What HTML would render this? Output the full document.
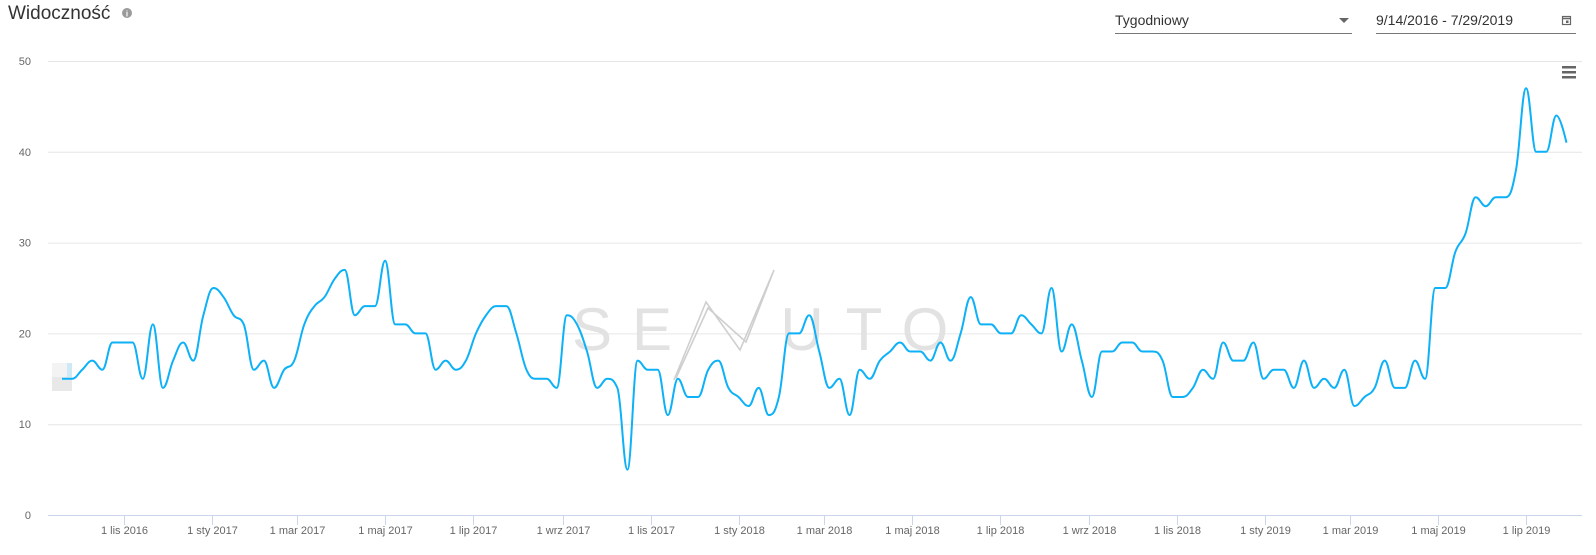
<!DOCTYPE html>
<html><head><meta charset="utf-8"><style>
html,body{margin:0;padding:0;background:#fff;width:1596px;height:555px;overflow:hidden;font-family:"Liberation Sans",sans-serif}
svg{position:absolute;left:0;top:0}
</style></head><body>
<svg width="1596" height="555" viewBox="0 0 1596 555">
  <text x="8" y="19" font-size="19" fill="#333">Widoczność</text>
  <g><circle cx="127" cy="13" r="5" fill="#9a9a9a"/><text x="127" y="16.5" font-size="8" fill="#fff" text-anchor="middle" font-weight="bold">i</text></g>
  <g>
    <text x="1115" y="25" font-size="14" fill="#333">Tygodniowy</text>
    <path d="M1339 18 L1349 18 L1344 23 Z" fill="#666"/>
    <line x1="1115" y1="33.5" x2="1352" y2="33.5" stroke="#777" stroke-width="1"/>
  </g>
  <g>
    <text x="1376" y="25" font-size="14" fill="#333">9/14/2016 - 7/29/2019</text>
    <rect x="1562.5" y="16.5" width="8" height="8" fill="none" stroke="#666" stroke-width="1.2"/>
    <line x1="1562" y1="18.5" x2="1571" y2="18.5" stroke="#666" stroke-width="1.5"/>
    <rect x="1566" y="20.5" width="2.5" height="2.5" fill="#666"/>
    <line x1="1376" y1="33.5" x2="1576" y2="33.5" stroke="#777" stroke-width="1"/>
  </g>
  <g>
    <rect x="1562" y="66" width="14" height="2.5" fill="#666"/><rect x="1562" y="71" width="14" height="2.5" fill="#666"/><rect x="1562" y="76" width="14" height="2.5" fill="#666"/>
  </g>
  <g id="grid"></g>
  <g id="ylabels"></g>
  <g id="xaxis"></g>
  <g fill="none" stroke="#cfcfcf" stroke-width="1.6" font-size="60">
    <text x="592" y="350" text-anchor="middle" fill="#e2e2e2" stroke="none">S</text>
    <text x="652" y="350" text-anchor="middle" fill="#e2e2e2" stroke="none">E</text>
    <text x="802" y="350" text-anchor="middle" fill="#e2e2e2" stroke="none">U</text>
    <text x="864" y="350" text-anchor="middle" fill="#e2e2e2" stroke="none">T</text>
    <text x="925" y="350" text-anchor="middle" fill="#e2e2e2" stroke="none">O</text>
    <polyline points="674,380 706,302 740,350 774,270 746,342 708,308 676,378"/>
  </g>
  <g>
    <rect x="52" y="363" width="20" height="14" fill="#f3f3f3"/>
    <rect x="52" y="377" width="20" height="14" fill="#e8e8e8"/>
    <rect x="67" y="363" width="5" height="14" fill="#cde9f6"/>
  </g>
  <path id="line" fill="none" stroke="#0db1f7" stroke-width="2"/>
</svg>
<script>
const yTicks=[0,10,20,30,40,50];
const xTickDates=["2016-11-01","2017-01-01","2017-03-01","2017-05-01","2017-07-01","2017-09-01","2017-11-01","2018-01-01","2018-03-01","2018-05-01","2018-07-01","2018-09-01","2018-11-01","2019-01-01","2019-03-01","2019-05-01","2019-07-01"];
const xTickLabels=["1 lis 2016","1 sty 2017","1 mar 2017","1 maj 2017","1 lip 2017","1 wrz 2017","1 lis 2017","1 sty 2018","1 mar 2018","1 maj 2018","1 lip 2018","1 wrz 2018","1 lis 2018","1 sty 2019","1 mar 2019","1 maj 2019","1 lip 2019"];
const firstWeek="2016-09-19";
const values=[15,15,16,17,16,19,19,19,15,21,14,17,19,17,22,25,24,22,21,16,17,14,16,17,21,23,24,26,27,22,23,23,28,21,21,20,20,16,17,16,17,20,22,23,23,20,16,15,15,14,22,21,18,14,15,14,5,17,16,16,11,15,13,13,16,17,14,13,12,14,11,13,20,20,22,18,14,15,11,16,15,17,18,19,18,18,17,19,17,20,24,21,21,20,20,22,21,20,25,18,21,17,13,18,18,19,19,18,18,17,13,13,14,16,15,19,17,17,19,15,16,16,14,17,14,15,14,16,12,13,14,17,14,14,17,15,25,25,29,31,35,34,35,35,38,47,40,40,44,41];

const NS="http://www.w3.org/2000/svg";
const DAY=86400000;
const refDate=Date.UTC(2017,0,1), refX=212, pxPerDay=1053/730;
function xDate(s){const p=s.split("-");return refX+(Date.UTC(+p[0],p[1]-1,+p[2])-refDate)/DAY*pxPerDay;}
function xIdx(i){return xDate(firstWeek)+i*7*pxPerDay;}
function y(v){return 515-v*(515-61)/50;}
const L=48,R=1582;
const grid=document.getElementById('grid'),yl=document.getElementById('ylabels'),xa=document.getElementById('xaxis');
yTicks.forEach(t=>{
  if(t>0){const g=document.createElementNS(NS,'line');
  g.setAttribute('x1',L);g.setAttribute('x2',R);g.setAttribute('y1',y(t)+0.5);g.setAttribute('y2',y(t)+0.5);
  g.setAttribute('stroke','#e6e6e6');g.setAttribute('stroke-width','1');
  
  
  grid.appendChild(g);}
  const tx=document.createElementNS(NS,'text');
  tx.setAttribute('x',31);tx.setAttribute('y',y(t)+4);tx.setAttribute('text-anchor','end');
  tx.setAttribute('font-size','11');tx.setAttribute('fill','#666');tx.textContent=t;
  
  
  yl.appendChild(tx);
});
const ax=document.createElementNS(NS,'line');
ax.setAttribute('x1',L);ax.setAttribute('x2',R);ax.setAttribute('y1',515.5);ax.setAttribute('y2',515.5);ax.setAttribute('stroke','#ccd6eb');


xa.appendChild(ax);
xTickDates.forEach((d,k)=>{
  const xx=Math.round(xDate(d))+0.5;
  const tk=document.createElementNS(NS,'line');
  tk.setAttribute('x1',xx);tk.setAttribute('x2',xx);tk.setAttribute('y1',515);tk.setAttribute('y2',525);tk.setAttribute('stroke','#ccd6eb');
  
  
  xa.appendChild(tk);
  const tx=document.createElementNS(NS,'text');
  tx.setAttribute('x',xx);tx.setAttribute('y',534);tx.setAttribute('text-anchor','middle');
  tx.setAttribute('font-size','11');tx.setAttribute('fill','#666');tx.textContent=xTickLabels[k];
  
  
  xa.appendChild(tx);
});
const pts=values.map((v,i)=>[xIdx(i),y(v)]);
function cont(i){
  const [px,py]=pts[i];
  if(i===0||i===pts.length-1)return [[px,py],[px,py]];
  const [lx,ly]=pts[i-1],[nx,ny]=pts[i+1];
  const s=1.5,d=2.5;
  let lcx=(s*px+lx)/d,lcy=(s*py+ly)/d,rcx=(s*px+nx)/d,rcy=(s*py+ny)/d;
  if(rcx!==lcx){const c=((rcy-lcy)*(rcx-px))/(rcx-lcx)+py-rcy;lcy+=c;rcy+=c;}
  if(lcy>ly&&lcy>py){lcy=Math.max(ly,py);rcy=2*py-lcy;}else if(lcy<ly&&lcy<py){lcy=Math.min(ly,py);rcy=2*py-lcy;}
  if(rcy>ny&&rcy>py){rcy=Math.max(ny,py);lcy=2*py-rcy;}else if(rcy<ny&&rcy<py){rcy=Math.min(ny,py);lcy=2*py-rcy;}
  return [[lcx,lcy],[rcx,rcy]];
}
let d="M"+pts[0][0].toFixed(2)+" "+pts[0][1].toFixed(2);
for(let i=1;i<pts.length;i++){
  const a=cont(i-1)[1],b=cont(i)[0];
  d+=" C"+a[0].toFixed(2)+" "+a[1].toFixed(2)+" "+b[0].toFixed(2)+" "+b[1].toFixed(2)+" "+pts[i][0].toFixed(2)+" "+pts[i][1].toFixed(2);
}
document.getElementById('line').setAttribute('d',d);
</script>
</body></html>
